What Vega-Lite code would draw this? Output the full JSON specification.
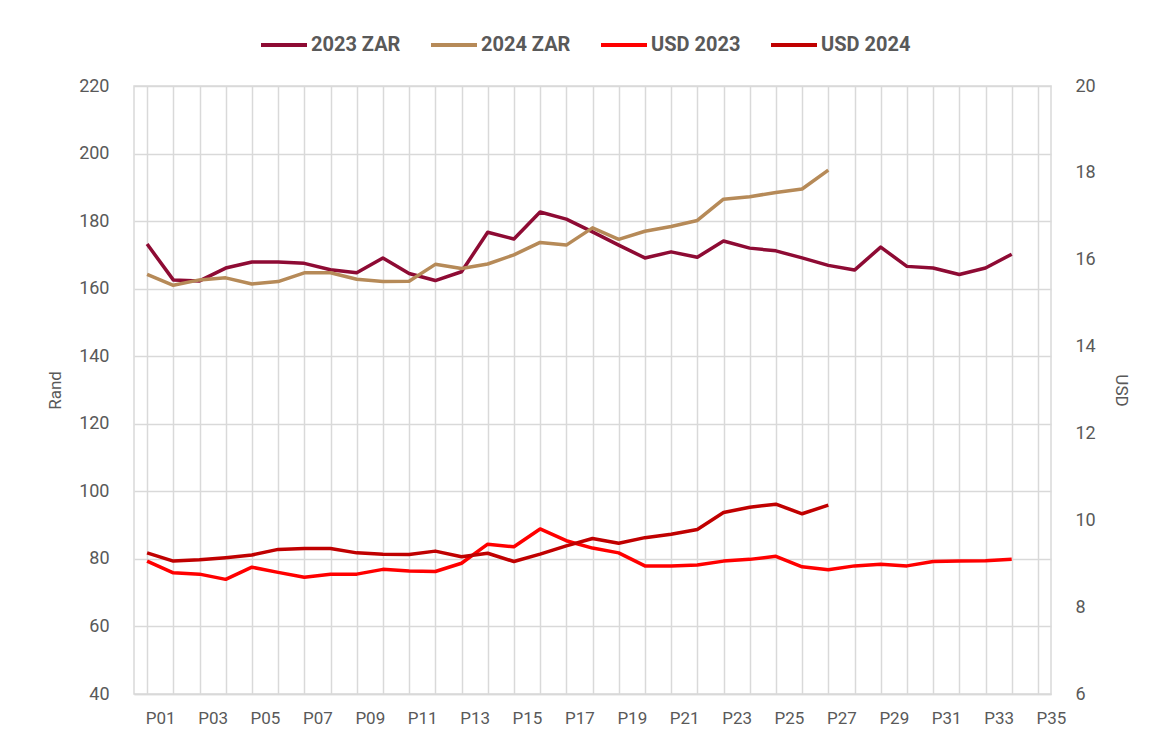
{
  "$schema": "https://vega.github.io/schema/vega-lite/v6.json",
  "width": 917,
  "height": 608,
  "autosize": {"type": "none"},
  "padding": {"left": 134, "top": 86, "right": 105, "bottom": 40},
  "background": "white",
  "config": {
    "font": "Roboto",
    "view": {"stroke": "#d9d9d9", "strokeWidth": 1.5},
    "axis": {"labelColor": "#595959", "titleColor": "#595959", "labelFont": "Roboto", "titleFont": "Roboto", "titleFontWeight": "normal"}
  },
  "data": {"values": [
    {"p":"P01","s":"2023 ZAR","v":173.2},{"p":"P02","s":"2023 ZAR","v":162.6},{"p":"P03","s":"2023 ZAR","v":162.3},{"p":"P04","s":"2023 ZAR","v":166.1},{"p":"P05","s":"2023 ZAR","v":167.9},{"p":"P06","s":"2023 ZAR","v":167.9},{"p":"P07","s":"2023 ZAR","v":167.5},{"p":"P08","s":"2023 ZAR","v":165.6},{"p":"P09","s":"2023 ZAR","v":164.7},{"p":"P10","s":"2023 ZAR","v":169.1},{"p":"P11","s":"2023 ZAR","v":164.5},{"p":"P12","s":"2023 ZAR","v":162.4},{"p":"P13","s":"2023 ZAR","v":165.0},{"p":"P14","s":"2023 ZAR","v":176.7},{"p":"P15","s":"2023 ZAR","v":174.7},{"p":"P16","s":"2023 ZAR","v":182.7},{"p":"P17","s":"2023 ZAR","v":180.6},{"p":"P18","s":"2023 ZAR","v":176.8},{"p":"P19","s":"2023 ZAR","v":172.9},{"p":"P20","s":"2023 ZAR","v":169.1},{"p":"P21","s":"2023 ZAR","v":170.9},{"p":"P22","s":"2023 ZAR","v":169.3},{"p":"P23","s":"2023 ZAR","v":174.1},{"p":"P24","s":"2023 ZAR","v":172.0},{"p":"P25","s":"2023 ZAR","v":171.2},{"p":"P26","s":"2023 ZAR","v":169.1},{"p":"P27","s":"2023 ZAR","v":166.9},{"p":"P28","s":"2023 ZAR","v":165.5},{"p":"P29","s":"2023 ZAR","v":172.3},{"p":"P30","s":"2023 ZAR","v":166.6},{"p":"P31","s":"2023 ZAR","v":166.1},{"p":"P32","s":"2023 ZAR","v":164.2},{"p":"P33","s":"2023 ZAR","v":166.1},{"p":"P34","s":"2023 ZAR","v":170.2},
    {"p":"P01","s":"2024 ZAR","v":164.2},{"p":"P02","s":"2024 ZAR","v":161.0},{"p":"P03","s":"2024 ZAR","v":162.6},{"p":"P04","s":"2024 ZAR","v":163.2},{"p":"P05","s":"2024 ZAR","v":161.4},{"p":"P06","s":"2024 ZAR","v":162.1},{"p":"P07","s":"2024 ZAR","v":164.7},{"p":"P08","s":"2024 ZAR","v":164.7},{"p":"P09","s":"2024 ZAR","v":162.8},{"p":"P10","s":"2024 ZAR","v":162.1},{"p":"P11","s":"2024 ZAR","v":162.2},{"p":"P12","s":"2024 ZAR","v":167.2},{"p":"P13","s":"2024 ZAR","v":166.0},{"p":"P14","s":"2024 ZAR","v":167.3},{"p":"P15","s":"2024 ZAR","v":170.0},{"p":"P16","s":"2024 ZAR","v":173.7},{"p":"P17","s":"2024 ZAR","v":172.9},{"p":"P18","s":"2024 ZAR","v":178.0},{"p":"P19","s":"2024 ZAR","v":174.6},{"p":"P20","s":"2024 ZAR","v":177.0},{"p":"P21","s":"2024 ZAR","v":178.4},{"p":"P22","s":"2024 ZAR","v":180.2},{"p":"P23","s":"2024 ZAR","v":186.5},{"p":"P24","s":"2024 ZAR","v":187.2},{"p":"P25","s":"2024 ZAR","v":188.5},{"p":"P26","s":"2024 ZAR","v":189.5},{"p":"P27","s":"2024 ZAR","v":195.1},
    {"p":"P01","s":"USD 2023","v":9.06},{"p":"P02","s":"USD 2023","v":8.79},{"p":"P03","s":"USD 2023","v":8.76},{"p":"P04","s":"USD 2023","v":8.64},{"p":"P05","s":"USD 2023","v":8.92},{"p":"P06","s":"USD 2023","v":8.80},{"p":"P07","s":"USD 2023","v":8.69},{"p":"P08","s":"USD 2023","v":8.76},{"p":"P09","s":"USD 2023","v":8.76},{"p":"P10","s":"USD 2023","v":8.87},{"p":"P11","s":"USD 2023","v":8.83},{"p":"P12","s":"USD 2023","v":8.82},{"p":"P13","s":"USD 2023","v":9.01},{"p":"P14","s":"USD 2023","v":9.45},{"p":"P15","s":"USD 2023","v":9.39},{"p":"P16","s":"USD 2023","v":9.80},{"p":"P17","s":"USD 2023","v":9.53},{"p":"P18","s":"USD 2023","v":9.36},{"p":"P19","s":"USD 2023","v":9.25},{"p":"P20","s":"USD 2023","v":8.95},{"p":"P21","s":"USD 2023","v":8.95},{"p":"P22","s":"USD 2023","v":8.97},{"p":"P23","s":"USD 2023","v":9.06},{"p":"P24","s":"USD 2023","v":9.10},{"p":"P25","s":"USD 2023","v":9.17},{"p":"P26","s":"USD 2023","v":8.93},{"p":"P27","s":"USD 2023","v":8.86},{"p":"P28","s":"USD 2023","v":8.95},{"p":"P29","s":"USD 2023","v":8.99},{"p":"P30","s":"USD 2023","v":8.95},{"p":"P31","s":"USD 2023","v":9.05},{"p":"P32","s":"USD 2023","v":9.06},{"p":"P33","s":"USD 2023","v":9.07},{"p":"P34","s":"USD 2023","v":9.10},
    {"p":"P01","s":"USD 2024","v":9.25},{"p":"P02","s":"USD 2024","v":9.06},{"p":"P03","s":"USD 2024","v":9.09},{"p":"P04","s":"USD 2024","v":9.14},{"p":"P05","s":"USD 2024","v":9.20},{"p":"P06","s":"USD 2024","v":9.33},{"p":"P07","s":"USD 2024","v":9.35},{"p":"P08","s":"USD 2024","v":9.35},{"p":"P09","s":"USD 2024","v":9.25},{"p":"P10","s":"USD 2024","v":9.22},{"p":"P11","s":"USD 2024","v":9.21},{"p":"P12","s":"USD 2024","v":9.29},{"p":"P13","s":"USD 2024","v":9.16},{"p":"P14","s":"USD 2024","v":9.24},{"p":"P15","s":"USD 2024","v":9.05},{"p":"P16","s":"USD 2024","v":9.22},{"p":"P17","s":"USD 2024","v":9.41},{"p":"P18","s":"USD 2024","v":9.58},{"p":"P19","s":"USD 2024","v":9.47},{"p":"P20","s":"USD 2024","v":9.60},{"p":"P21","s":"USD 2024","v":9.68},{"p":"P22","s":"USD 2024","v":9.79},{"p":"P23","s":"USD 2024","v":10.18},{"p":"P24","s":"USD 2024","v":10.30},{"p":"P25","s":"USD 2024","v":10.37},{"p":"P26","s":"USD 2024","v":10.15},{"p":"P27","s":"USD 2024","v":10.35}
  ]},
  "encoding": {
    "x": {
      "field": "p", "type": "nominal", "sort": null,
      "scale": {"domain": ["P01","P02","P03","P04","P05","P06","P07","P08","P09","P10","P11","P12","P13","P14","P15","P16","P17","P18","P19","P20","P21","P22","P23","P24","P25","P26","P27","P28","P29","P30","P31","P32","P33","P34","P35"], "paddingInner": 0, "paddingOuter": 0},
      "axis": {
        "title": null, "labelAngle": 0, "bandPosition": 0, "labelOffset": 13.1,
        "labelExpr": "toNumber(substring(datum.value,1)) % 2 == 1 ? datum.value : ''",
        "grid": true, "gridColor": "#d9d9d9", "gridWidth": 1.5,
        "ticks": false, "domainColor": "#d9d9d9", "domainWidth": 1.5,
        "labelFontSize": 17, "labelPadding": 16
      }
    },
    "color": {
      "field": "s", "type": "nominal",
      "scale": {"domain": ["2023 ZAR","2024 ZAR","USD 2023","USD 2024"], "range": ["#8E0B34","#B68A58","#FF0000","#C00000"]},
      "legend": {
        "title": null, "orient": "none", "direction": "horizontal", "legendX": 125, "legendY": -66,
        "symbolType": "stroke", "symbolSize": 2116, "symbolStrokeWidth": 4,
        "labelFontSize": 20, "labelFontWeight": "bold", "labelColor": "#595959", "labelFont": "Roboto",
        "labelOffset": 2, "columnPadding": 22, "labelLimit": 200
      }
    }
  },
  "layer": [
    {
      "transform": [{"filter": "indexof(['2023 ZAR','2024 ZAR'], datum.s) >= 0"}],
      "mark": {"type": "line", "strokeWidth": 3.5, "strokeJoin": "round"},
      "encoding": {
        "y": {
          "field": "v", "type": "quantitative",
          "scale": {"domain": [40, 220], "nice": false, "zero": false},
          "axis": {
            "orient": "left", "title": "Rand", "values": [40,60,80,100,120,140,160,180,200,220],
            "grid": true, "gridColor": "#d9d9d9", "gridWidth": 1.5, "domain": false, "ticks": false,
            "labelFontSize": 18, "labelPadding": 25, "titleFontSize": 17, "titlePadding": 14
          }
        }
      }
    },
    {
      "transform": [{"filter": "indexof(['USD 2023','USD 2024'], datum.s) >= 0"}],
      "mark": {"type": "line", "strokeWidth": 3.5, "strokeJoin": "round"},
      "encoding": {
        "y": {
          "field": "v", "type": "quantitative",
          "scale": {"domain": [6, 20], "nice": false, "zero": false},
          "axis": {
            "orient": "right", "title": "USD", "values": [6,8,10,12,14,16,18,20],
            "grid": false, "domain": false, "ticks": false,
            "labelFontSize": 18, "labelPadding": 24, "titleFontSize": 17, "titlePadding": 16
          }
        }
      }
    }
  ],
  "resolve": {"scale": {"y": "independent"}}
}
